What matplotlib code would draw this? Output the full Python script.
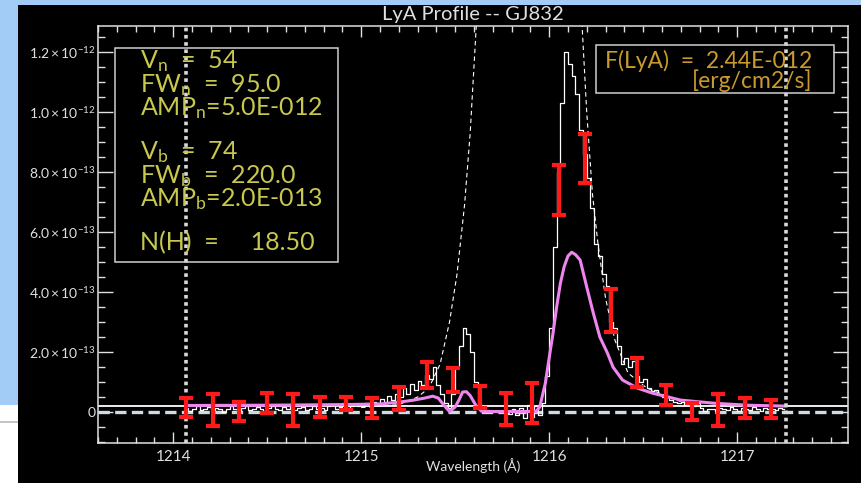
import numpy as np
import matplotlib
matplotlib.use("Agg")
import matplotlib.pyplot as plt
from matplotlib.patches import Rectangle
from matplotlib.ticker import MultipleLocator, FixedLocator, FixedFormatter

# observed spectrum (flux in 1e-13 erg/cm2/s/A), 0.02 A bins from 1214.07
spec_flux = [
    # 1214.07 - 1214.99
    0.15, 0.05, 0.12, 0.20, 0.08, 0.10, 0.18, 0.06, 0.14, 0.10,
    0.02, 0.12, 0.20, 0.10, 0.05, 0.15, 0.22, 0.08, 0.12, 0.18,
    0.10, 0.04, 0.14, 0.20, 0.12, 0.06, 0.16, 0.10, 0.20, 0.08,
    0.14, 0.18, 0.06, 0.12, 0.22, 0.10, 0.15, 0.08, 0.20, 0.25,
    0.12, 0.18, 0.30, 0.15, 0.22, 0.28, 0.20,
    # 1215.01 - 1215.19
    0.20, 0.30, 0.25, 0.35, 0.30, 0.45, 0.35, 0.55, 0.40, 0.60,
    # 1215.21 - 1215.39
    0.50, 0.80, 0.60, 0.95, 0.75, 1.05, 0.90, 1.25, 1.10, 1.50,
    # 1215.41 - 1215.65
    0.90, 0.60, 0.30, 0.15, 0.60, 1.50, 2.20, 2.80, 2.60, 2.00, 1.00, 0.30, 0.05,
    # 1215.67 - 1215.95
    0.02, 0.00, 0.03, 0.00, 0.01, 0.00, -0.05, 0.10, -0.10, 0.15, -0.20, 0.25, -0.15, 0.20, -0.10,
    # 1215.97 - 1216.99
    0.30, 1.20, 2.80, 5.50, 8.00, 10.3, 12.0, 11.6, 11.2, 10.6,
    9.40, 8.60, 7.80, 6.80, 5.60, 5.20, 4.60, 4.20, 3.00, 2.80,
    2.20, 1.60, 1.80, 1.50, 1.70, 1.20, 1.00, 1.10, 0.80, 0.70,
    0.75, 0.60, 0.50, 0.55, 0.40, 0.35, 0.30, 0.35, 0.25, 0.30,
    0.20, 0.30, 0.15, 0.05, 0.10, 0.12, 0.05, 0.15, 0.10, 0.08,
    0.18, 0.10,
    # 1217.01 - 1217.25
    0.05, 0.15, 0.12, 0.08, 0.18, 0.10, 0.05, 0.15, 0.10, 0.12, 0.06, 0.14, 0.10,
]
spec_wave = np.round(1214.07 + 0.02 * np.arange(len(spec_flux)), 2)

# binned data with errors
bin_wave = [1214.07, 1214.21, 1214.35, 1214.50, 1214.64, 1214.78, 1214.92, 1215.06,
            1215.20, 1215.35, 1215.49, 1215.63, 1215.77, 1215.91, 1216.05, 1216.19,
            1216.33, 1216.47, 1216.62, 1216.76, 1216.90, 1217.04, 1217.18]
bin_flux = [0.15, 0.07, 0.02, 0.30, 0.07, 0.17, 0.28, 0.13, 0.45, 1.23, 1.07, 0.50,
            0.10, 0.30, 7.40, 8.45, 3.38, 1.32, 0.57, 0.02, 0.07, 0.13, 0.10]
bin_err = [0.32, 0.53, 0.32, 0.33, 0.53, 0.33, 0.22, 0.33, 0.38, 0.43, 0.40, 0.37,
           0.53, 0.67, 0.83, 0.82, 0.72, 0.48, 0.33, 0.28, 0.53, 0.33, 0.30]

# model profile (after absorption + convolution)
model_wave = [1214.07, 1214.5, 1214.9, 1215.10, 1215.20, 1215.28, 1215.34, 1215.38, 1215.41,
              1215.44, 1215.47, 1215.50, 1215.52, 1215.54, 1215.56, 1215.58, 1215.61, 1215.64,
              1215.70, 1215.80, 1215.93, 1215.95, 1215.98, 1216.00, 1216.02, 1216.04, 1216.06,
              1216.08, 1216.10, 1216.12, 1216.14, 1216.165, 1216.20, 1216.235, 1216.27, 1216.31,
              1216.34, 1216.39, 1216.47, 1216.55, 1216.70, 1216.87, 1217.05, 1217.26]
model_flux = [0.22, 0.23, 0.25, 0.27, 0.33, 0.40, 0.47, 0.53, 0.47,
              0.23, 0.02, 0.17, 0.40, 0.67, 0.68, 0.55, 0.23, 0.03,
              0.02, 0.02, 0.02, 0.17, 0.97, 1.80, 2.60, 3.50, 4.30,
              4.85, 5.20, 5.33, 5.25, 5.07, 4.17, 3.30, 2.50, 1.97,
              1.50, 1.07, 0.80, 0.63, 0.40, 0.30, 0.23, 0.20]

# intrinsic profile (dashed)
intr_wave = [1215.00, 1215.20, 1215.30, 1215.36, 1215.42, 1215.47, 1215.51, 1215.55, 1215.58,
             1215.61, 1215.64, 1215.68, 1215.89, 1216.10, 1216.14, 1216.17, 1216.20, 1216.23,
             1216.26, 1216.30, 1216.35, 1216.42, 1216.52, 1216.70]
intr_flux = [0.15, 0.25, 0.50, 0.80, 1.60, 3.00, 4.60, 6.90, 9.30,
             12.6, 16.0, 22.0, 52.0, 25.0, 17.0, 13.5, 10.0, 7.30,
             5.60, 3.80, 2.40, 1.30, 0.80, 0.35]

cont_level = 0.22
fit_range = [1214.07, 1217.26]

xticks = [1214, 1215, 1216, 1217]
xtick_labels = ["1214", "1215", "1216", "1217"]
yticks = [0, 2e-13, 4e-13, 6e-13, 8e-13, 1.0e-12, 1.2e-12]
ytick_labels = ["0", r"$2.0\times10^{-13}$", r"$4.0\times10^{-13}$", r"$6.0\times10^{-13}$",
                r"$8.0\times10^{-13}$", r"$1.0\times10^{-12}$", r"$1.2\times10^{-12}$"]

param_lines = [r"V$_\mathrm{n}$  =  54", r"FW$_\mathrm{n}$  =  95.0", r"AMP$_\mathrm{n}$=5.0E-012", "",
               r"V$_\mathrm{b}$  =  74", r"FW$_\mathrm{b}$  =  220.0", r"AMP$_\mathrm{b}$=2.0E-013", "",
               "N(H)  =     18.50"]
flux_lines = ["F(LyA)  =  2.44E-012", "[erg/cm2/s]"]

W, H = 862, 483
fg = "#e0e0e0"
yellow = "#c8c84e"
orange = "#c99a2e"

plt.rcParams["font.family"] = ["Lato", "DejaVu Sans"]
plt.rcParams["mathtext.fontset"] = "custom"
plt.rcParams["mathtext.rm"] = "Lato"
plt.rcParams["mathtext.it"] = "Lato:italic"

fig = plt.figure(figsize=(W / 100, H / 100), dpi=100, facecolor="black")

# slide background around the plot
blue = "#a2cbf6"
fig.add_artist(Rectangle((0, 1 - 5 / H), 1, 5 / H, transform=fig.transFigure, color=blue, lw=0))
fig.add_artist(Rectangle((0, 1 - 405 / H), 18 / W, 405 / H, transform=fig.transFigure, color=blue, lw=0))
fig.add_artist(Rectangle((0, 0), 18 / W, 1 - 405 / H, transform=fig.transFigure, color="white", lw=0))
fig.add_artist(Rectangle((0, 1 - 423 / H), 18 / W, 2 / H, transform=fig.transFigure, color="#c4c4c4", lw=0))

ax = fig.add_axes([98 / W, 1 - 443 / H, 750 / W, 417 / H])
ax.set_facecolor("black")

s = 1e-13
ax.axhline(cont_level * s, color="white", lw=1.3, zorder=1)
ax.axhline(0, color="#cfdbe0", lw=2.4, dashes=(3.4, 1.6), zorder=2)
ax.plot(spec_wave, np.array(spec_flux) * s, drawstyle="steps-mid", color="white", lw=0.9, zorder=3)
ax.plot(intr_wave, np.array(intr_flux) * s, color="white", lw=0.8, dashes=(4, 3), zorder=3)
ax.plot(model_wave, np.array(model_flux) * s, color="#ee86ee", lw=2.2, zorder=4)
for xv in fit_range:
    ax.axvline(xv, color="#d8d8d8", lw=2.6, linestyle=(0, (1, 1)), zorder=5)
ax.errorbar(bin_wave, np.array(bin_flux) * s, yerr=np.array(bin_err) * s, fmt="none",
            ecolor="#ff1a1a", elinewidth=3, capsize=5, capthick=3, zorder=6)

ax.set_xlim(1213.60, 1217.59)
ax.set_ylim(-1.03e-13, 1.287e-12)

ax.xaxis.set_major_locator(FixedLocator(xticks))
ax.xaxis.set_major_formatter(FixedFormatter(xtick_labels))
ax.xaxis.set_minor_locator(MultipleLocator(0.1))
ax.yaxis.set_major_locator(FixedLocator(yticks))
ax.yaxis.set_major_formatter(FixedFormatter(ytick_labels))
ax.yaxis.set_minor_locator(MultipleLocator(5e-14))

ax.tick_params(which="both", direction="in", top=True, right=True, color=fg, labelcolor=fg, width=1)
ax.tick_params(axis="x", which="major", length=8, labelsize=11, pad=5)
ax.tick_params(axis="x", which="minor", length=4.5)
ax.tick_params(axis="y", which="major", length=11, labelsize=10, pad=2)
ax.tick_params(axis="y", which="minor", length=5)
for sp in ax.spines.values():
    sp.set_color(fg)
    sp.set_linewidth(1.1)

fig.text(473 / W, 1 - 20 / H, "LyA Profile -- GJ832", color=fg, fontsize=14.5,
         ha="center", va="baseline")
fig.text(473 / W, 1 - 471 / H, "Wavelength (Å)", color=fg, fontsize=10,
         ha="center", va="baseline")


def axc(px, py):
    return ((px - 98) / 750, (443 - py) / 417)


# parameter box
x0, y0 = axc(115, 262)
x1, y1 = axc(338, 48)
ax.add_patch(Rectangle((x0, y0), x1 - x0, y1 - y0, transform=ax.transAxes,
                       fill=False, edgecolor="#cfcfcf", lw=1.1, zorder=7))
tx, ty = axc(140, 250)
ax.text(tx, ty, "\n".join(param_lines), transform=ax.transAxes, color=yellow, fontsize=18,
        ha="left", va="baseline", linespacing=0.88, zorder=8)

# flux box
x0, y0 = axc(596, 93)
x1, y1 = axc(834, 45)
ax.add_patch(Rectangle((x0, y0), x1 - x0, y1 - y0, transform=ax.transAxes,
                       fill=False, edgecolor="#cfcfcf", lw=1.1, zorder=7))
tx, ty = axc(812, 88)
ax.text(tx, ty, "\n".join(flux_lines), transform=ax.transAxes, color=orange, fontsize=16.5,
        ha="right", va="baseline", multialignment="right", linespacing=0.85, zorder=8)

fig.savefig("out.png", dpi=100, facecolor=fig.get_facecolor())
